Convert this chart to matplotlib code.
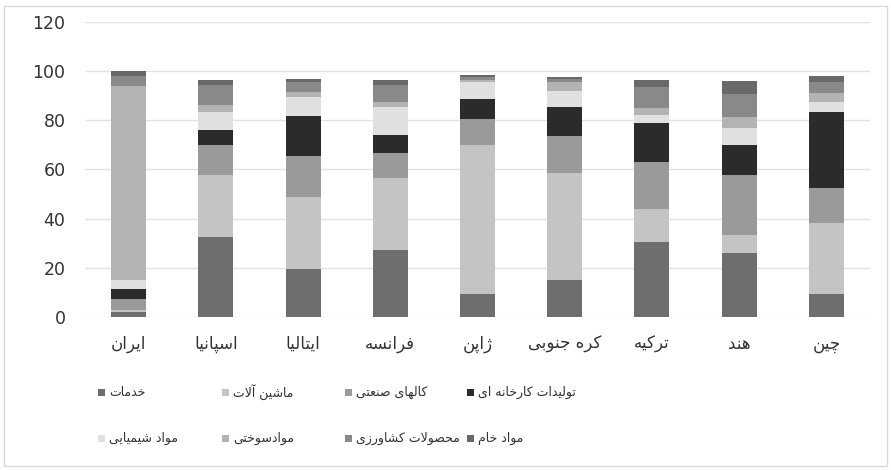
import matplotlib.pyplot as plt
import matplotlib.patches as patches
import numpy as np

# ---- data (stack order bottom -> top) ----
countries = ["ایران", "اسپانیا", "ایتالیا", "فرانسه", "ژاپن", "کره جنوبی", "ترکیه", "هند", "چین"]

series_names = ["خدمات", "ماشین آلات", "کالهای صنعتی", "تولیدات کارخانه ای",
                "مواد شیمیایی", "موادسوختی", "محصولات کشاورزی", "مواد خام"]

services = [2.0, 32.6, 19.5, 27.1, 9.2, 15.2, 30.3, 26.2, 9.5]
machinery = [1.0, 25.3, 29.3, 29.2, 60.7, 43.4, 13.4, 7.3, 28.8]
industrial = [4.5, 12.0, 16.7, 10.2, 10.6, 15.1, 19.1, 24.4, 14.2]
manufactured = [4.0, 6.1, 16.2, 7.4, 8.0, 11.5, 15.9, 12.0, 30.9]
chemicals = [3.5, 7.4, 7.6, 11.3, 6.9, 6.8, 3.4, 6.8, 4.1]
fuel = [79.0, 2.6, 2.2, 2.0, 1.0, 3.4, 3.0, 4.7, 3.4]
agri = [4.0, 8.3, 3.9, 7.1, 1.0, 1.4, 8.5, 9.1, 4.4]
raw = [2.0, 1.9, 1.2, 1.9, 0.8, 0.9, 2.7, 5.2, 2.7]

yticks = [0, 20, 40, 60, 80, 100, 120]

series_vals = [services, machinery, industrial, manufactured, chemicals, fuel, agri, raw]
colors = ["#6e6e6e", "#c4c4c4", "#9a9a9a", "#2b2b2b", "#e0e0e0", "#b3b3b3", "#898989", "#696969"]

# ---- minimal Persian shaping (matplotlib has no bidi / joining) ----
FORMS = {
    '\u0627': ('\uFE8D', '\uFE8E', None, None),
    '\u0622': ('\uFE81', '\uFE82', None, None),
    '\u0628': ('\uFE8F', '\uFE90', '\uFE91', '\uFE92'),
    '\u067E': ('\uFB56', '\uFB57', '\uFB58', '\uFB59'),
    '\u062A': ('\uFE95', '\uFE96', '\uFE97', '\uFE98'),
    '\u062C': ('\uFE9D', '\uFE9E', '\uFE9F', '\uFEA0'),
    '\u0686': ('\uFB7A', '\uFB7B', '\uFB7C', '\uFB7D'),
    '\u062D': ('\uFEA1', '\uFEA2', '\uFEA3', '\uFEA4'),
    '\u062E': ('\uFEA5', '\uFEA6', '\uFEA7', '\uFEA8'),
    '\u062F': ('\uFEA9', '\uFEAA', None, None),
    '\u0631': ('\uFEAD', '\uFEAE', None, None),
    '\u0632': ('\uFEAF', '\uFEB0', None, None),
    '\u0698': ('\uFB8A', '\uFB8B', None, None),
    '\u0633': ('\uFEB1', '\uFEB2', '\uFEB3', '\uFEB4'),
    '\u0634': ('\uFEB5', '\uFEB6', '\uFEB7', '\uFEB8'),
    '\u0635': ('\uFEB9', '\uFEBA', '\uFEBB', '\uFEBC'),
    '\u0639': ('\uFEC9', '\uFECA', '\uFECB', '\uFECC'),
    '\u0641': ('\uFED1', '\uFED2', '\uFED3', '\uFED4'),
    '\u06A9': ('\uFB8E', '\uFB8F', '\uFB90', '\uFB91'),
    '\u0644': ('\uFEDD', '\uFEDE', '\uFEDF', '\uFEE0'),
    '\u0645': ('\uFEE1', '\uFEE2', '\uFEE3', '\uFEE4'),
    '\u0646': ('\uFEE5', '\uFEE6', '\uFEE7', '\uFEE8'),
    '\u0647': ('\uFEE9', '\uFEEA', '\uFEEB', '\uFEEC'),
    '\u0648': ('\uFEED', '\uFEEE', None, None),
    '\u06CC': ('\uFBFC', '\uFBFD', '\uFBFE', '\uFBFF'),
}


def fa(text):
    def dual(c):
        return c in FORMS and FORMS[c][2] is not None
    chars = list(text)
    n = len(chars)
    res = []
    i = 0
    while i < n:
        c = chars[i]
        if c not in FORMS:
            res.append(c)
            i += 1
            continue
        join_prev = i > 0 and dual(chars[i - 1])
        if c == '\u0644' and i + 1 < n and chars[i + 1] in ('\u0627', '\u0622'):
            iso, fin = ('\uFEFB', '\uFEFC') if chars[i + 1] == '\u0627' else ('\uFEF5', '\uFEF6')
            res.append(fin if join_prev else iso)
            i += 2
            continue
        join_next = dual(c) and i + 1 < n and chars[i + 1] in FORMS
        f = FORMS[c]
        if join_prev and join_next:
            res.append(f[3])
        elif join_prev:
            res.append(f[1])
        elif join_next:
            res.append(f[2])
        else:
            res.append(f[0])
        i += 1
    return ''.join(reversed(res))


plt.rcParams['font.family'] = ['DejaVu Sans']

W, H = 891, 470
fig = plt.figure(figsize=(W / 100, H / 100), dpi=100)
ax = fig.add_axes([85 / W, 1 - 317 / H, 785 / W, (317 - 21.7) / H])

x = np.arange(len(countries))
bottom = np.zeros(len(countries))
for vals, col in zip(series_vals, colors):
    ax.bar(x, vals, width=0.4, bottom=bottom, color=col, zorder=3)
    bottom += np.array(vals)

ax.set_xlim(-0.5, len(countries) - 0.5)
ax.set_ylim(0, 120)
ax.set_yticks(yticks)
ax.set_yticklabels([str(t) for t in yticks], fontsize=12.5, color='#333333')
ax.set_xticks(x)
ax.set_xticklabels([fa(c) for c in countries], fontsize=12, color='#333333')
ax.tick_params(axis='both', length=0)
ax.tick_params(axis='y', pad=14)
ax.tick_params(axis='x', pad=13)
ax.grid(axis='y', color='#e3e3e3', linewidth=1, zorder=0)
for s in ax.spines.values():
    s.set_visible(False)

# ---- legend drawn by hand: 2 rows x 4 columns ----
col_x = [98, 222, 345, 467]
row_y = [392, 438]
for k, (name, col) in enumerate(zip(series_names, colors)):
    r, c = divmod(k, 4)
    mx, my = col_x[c], row_y[r]
    fig.add_artist(patches.Rectangle((mx / W, 1 - (my + 3.5) / H), 7 / W, 7 / H,
                                     transform=fig.transFigure, facecolor=col, edgecolor='none'))
    fig.text((mx + 11) / W, 1 - my / H, fa(name), ha='left', va='center',
             fontsize=9, color='#333333')

# light frame around the chart
fig.add_artist(patches.Rectangle((4 / W, 4 / H), (W - 8) / W, (H - 10) / H,
                                 transform=fig.transFigure, facecolor='none',
                                 edgecolor='#d9d9d9', linewidth=1))

fig.savefig("out.png", dpi=100)
